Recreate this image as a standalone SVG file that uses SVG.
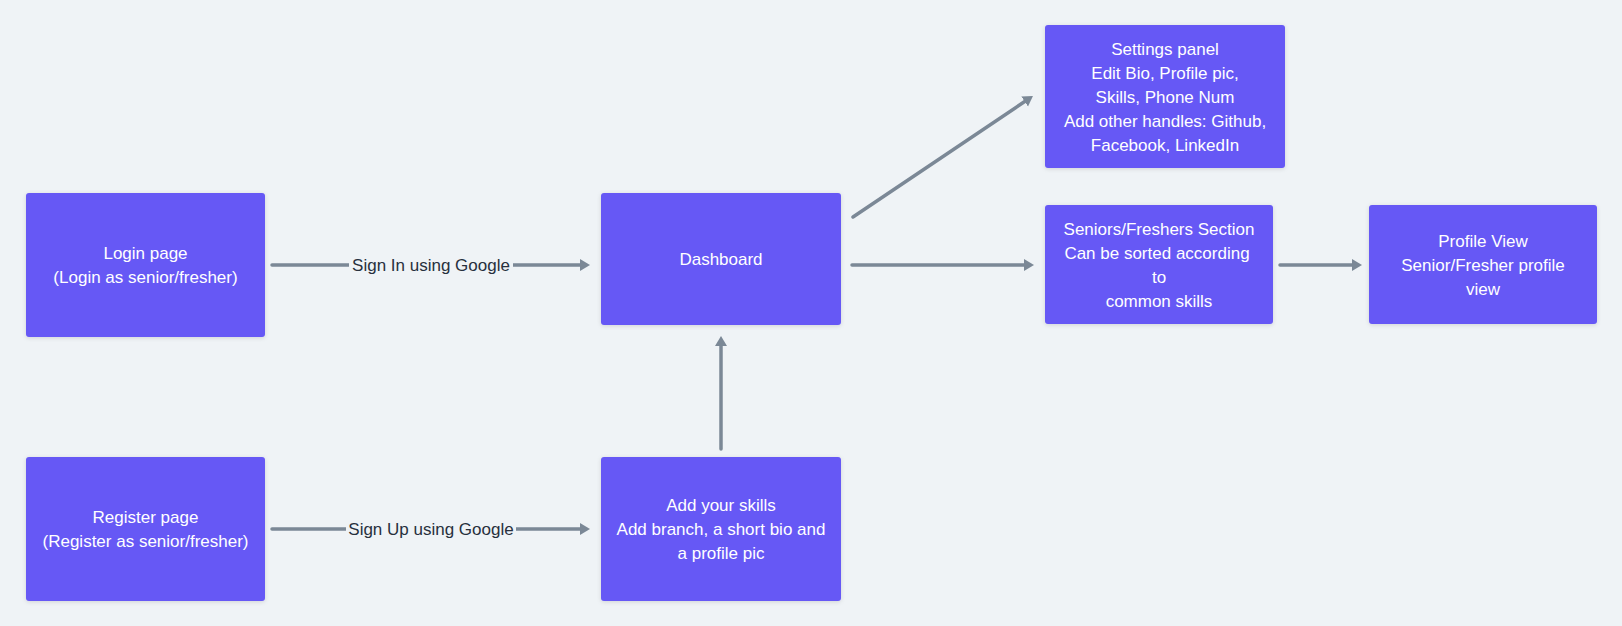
<svg xmlns="http://www.w3.org/2000/svg" width="1622" height="626" viewBox="0 0 1622 626">
<style>
.node rect{fill:#6659f5;filter:url(#sh)}
.node text{fill:#ffffff;font-family:"Liberation Sans",Arial,sans-serif;font-size:17px;text-anchor:middle}
.edge{stroke:#7b8896;stroke-width:3.5;stroke-linecap:round;fill:none;marker-end:url(#ah)}
.lbl-bg{fill:#eff3f6}
.lbl{fill:#27303d;font-family:"Liberation Sans",Arial,sans-serif;font-size:17px;text-anchor:middle}
</style>
<defs>
<filter id="sh" x="-10%" y="-10%" width="120%" height="130%">
<feDropShadow dx="0" dy="1" stdDeviation="2" flood-color="#000" flood-opacity="0.13"/>
</filter>
<marker id="ah" markerUnits="userSpaceOnUse" markerWidth="11" markerHeight="13" refX="5" refY="6" orient="auto">
<path d="M0,0 L10,6 L0,12 z" fill="#7b8896"/>
</marker>
</defs>
<rect width="1622" height="626" fill="#eff3f6"/>

<g id="connectors">
<line class="edge" x1="272" y1="265" x2="585" y2="265"/>
<rect class="lbl-bg" x="349" y="254" width="164" height="22"/>
<text class="lbl" x="431" y="271">Sign In using Google</text>
<line class="edge" x1="272" y1="529" x2="585" y2="529"/>
<rect class="lbl-bg" x="346" y="518" width="170" height="22"/>
<text class="lbl" x="431" y="535">Sign Up using Google</text>
<line class="edge" x1="721" y1="449" x2="721" y2="341"/>
<line class="edge" x1="853" y1="217" x2="1028.8" y2="98.8"/>
<line class="edge" x1="852" y1="265" x2="1029" y2="265"/>
<line class="edge" x1="1280" y1="265" x2="1357" y2="265"/>
</g>

<g id="login" class="node">
<rect x="26" y="193" width="239" height="144" rx="3"/>
<text x="145.5" y="259">Login page</text>
<text x="145.5" y="283">(Login as senior/fresher)</text>
</g>
<g id="register" class="node">
<rect x="26" y="457" width="239" height="144" rx="3"/>
<text x="145.5" y="523">Register page</text>
<text x="145.5" y="547">(Register as senior/fresher)</text>
</g>
<g id="dashboard" class="node">
<rect x="601" y="193" width="240" height="132" rx="3"/>
<text x="721" y="265">Dashboard</text>
</g>
<g id="add-skills" class="node">
<rect x="601" y="457" width="240" height="144" rx="3"/>
<text x="721" y="511">Add your skills</text>
<text x="721" y="535">Add branch, a short bio and</text>
<text x="721" y="559">a profile pic</text>
</g>
<g id="settings" class="node">
<rect x="1045" y="25" width="240" height="143" rx="3"/>
<text x="1165" y="55">Settings panel</text>
<text x="1165" y="79">Edit Bio, Profile pic,</text>
<text x="1165" y="103">Skills, Phone Num</text>
<text x="1165" y="127">Add other handles: Github,</text>
<text x="1165" y="151">Facebook, LinkedIn</text>
</g>
<g id="seniors" class="node">
<rect x="1045" y="205" width="228" height="119" rx="3"/>
<text x="1159" y="235">Seniors/Freshers Section</text>
<text x="1157" y="259">Can be sorted according</text>
<text x="1159" y="283">to</text>
<text x="1159" y="307">common skills</text>
</g>
<g id="profile" class="node">
<rect x="1369" y="205" width="228" height="119" rx="3"/>
<text x="1483" y="247">Profile View</text>
<text x="1483" y="271">Senior/Fresher profile</text>
<text x="1483" y="295">view</text>
</g>
</svg>
